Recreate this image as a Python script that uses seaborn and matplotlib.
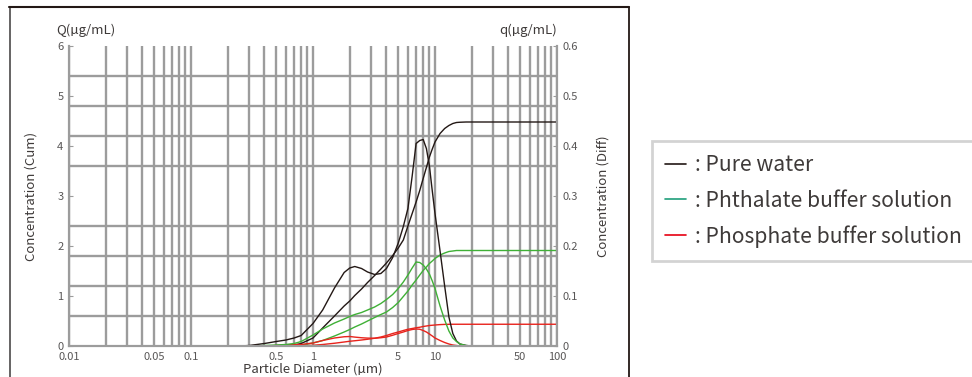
import numpy as np
import pandas as pd
import seaborn as sns
import matplotlib.pyplot as plt
from matplotlib.ticker import FixedLocator, LogLocator, NullFormatter
from matplotlib.lines import Line2D

# particle diameter (um), common grid for all curves
diameter = [0.01, 0.25, 0.3, 0.4, 0.5, 0.6, 0.7, 0.8, 1.0, 1.2, 1.5, 1.8, 2.0, 2.2, 2.5, 2.8,
            3.2, 3.6, 4.0, 4.5, 5.0, 5.5, 6.0, 6.5, 7.0, 7.5, 8.0, 8.5, 9.0, 9.5, 10, 11, 12,
            13, 14, 15, 16, 18, 20, 25, 100]

# cumulative Q (ug/mL), left axis
water_cum = [0, 0, 0, 0.003, 0.006, 0.01, 0.02, 0.05, 0.16, 0.36, 0.6, 0.8, 0.9, 1.01, 1.14, 1.27,
             1.41, 1.54, 1.66, 1.81, 1.96, 2.12, 2.4, 2.65, 2.88, 3.11, 3.35, 3.57, 3.78, 3.94, 4.08,
             4.25, 4.35, 4.41, 4.45, 4.47, 4.475, 4.48, 4.48, 4.48, 4.48]
phthalate_cum = [0, 0, 0, 0.001, 0.003, 0.005, 0.01, 0.02, 0.06, 0.11, 0.2, 0.28, 0.33, 0.38, 0.44,
                 0.5, 0.57, 0.63, 0.68, 0.77, 0.87, 0.99, 1.1, 1.22, 1.32, 1.42, 1.51, 1.58, 1.65,
                 1.7, 1.75, 1.82, 1.86, 1.89, 1.9, 1.91, 1.91, 1.91, 1.91, 1.91, 1.91]
phosphate_cum = [0, 0, 0, 0, 0.001, 0.003, 0.005, 0.007, 0.015, 0.03, 0.055, 0.08, 0.095, 0.105,
                 0.12, 0.135, 0.155, 0.18, 0.21, 0.25, 0.28, 0.31, 0.335, 0.35, 0.365, 0.375, 0.39,
                 0.4, 0.41, 0.415, 0.42, 0.428, 0.432, 0.434, 0.435, 0.435, 0.435, 0.435, 0.435,
                 0.435, 0.435]

# differential q (ug/mL), right axis
water_diff = [0, 0, 0.001, 0.005, 0.009, 0.012, 0.016, 0.021, 0.045, 0.072, 0.116, 0.147, 0.156,
              0.159, 0.155, 0.148, 0.143, 0.145, 0.155, 0.177, 0.206, 0.239, 0.275, 0.34, 0.405,
              0.411, 0.413, 0.395, 0.36, 0.31, 0.265, 0.19, 0.12, 0.058, 0.025, 0.01, 0.004, 0.001,
              0, 0, 0]
phthalate_diff = [0, 0, 0, 0.001, 0.002, 0.003, 0.005, 0.009, 0.022, 0.034, 0.046, 0.054, 0.059,
                  0.063, 0.067, 0.072, 0.078, 0.085, 0.093, 0.103, 0.115, 0.128, 0.142, 0.156,
                  0.168, 0.167, 0.162, 0.154, 0.144, 0.13, 0.115, 0.08, 0.052, 0.03, 0.016, 0.009,
                  0.004, 0.001, 0, 0, 0]
phosphate_diff = [0, 0, 0, 0, 0.001, 0.002, 0.003, 0.003, 0.006, 0.011, 0.016, 0.0185, 0.019,
                  0.0178, 0.0165, 0.0158, 0.0155, 0.0165, 0.018, 0.0215, 0.025, 0.028, 0.031,
                  0.033, 0.034, 0.0335, 0.031, 0.028, 0.024, 0.02, 0.016, 0.011, 0.007, 0.004,
                  0.002, 0.001, 0, 0, 0, 0, 0]

samples = ["Pure water", "Phosphate buffer solution", "Phthalate buffer solution"]
colores = {"Pure water": "#231815", "Phthalate buffer solution": "#3fb036",
           "Phosphate buffer solution": "#e8231c"}
legend_colors = ["#231815", "#1f9e7a", "#e60012"]
legend_labels = [": Pure water", ": Phthalate buffer solution", ": Phosphate buffer solution"]

x_ticks = [0.01, 0.05, 0.1, 0.5, 1, 5, 10, 50, 100]
x_tick_labels = ["0.01", "0.05", "0.1", "0.5", "1", "5", "10", "50", "100"]

n = len(diameter)
df_cum = pd.DataFrame({
    "Diameter": diameter * 3,
    "Q": water_cum + phosphate_cum + phthalate_cum,
    "Sample": [samples[0]] * n + [samples[1]] * n + [samples[2]] * n,
})
df_diff = pd.DataFrame({
    "Diameter": diameter * 3,
    "q": water_diff + phosphate_diff + phthalate_diff,
    "Sample": [samples[0]] * n + [samples[1]] * n + [samples[2]] * n,
})

sns.set_theme(style="white")
plt.rcParams['font.family'] = ['Noto Sans CJK JP', 'DejaVu Sans']
texto = "#3e3a39"
cinza = "#9c9c9c"

fig = plt.figure(figsize=(9.72, 3.77), dpi=100)
ax = fig.add_axes([69 / 972, 31 / 377, 488 / 972, 300 / 377])
ax2 = ax.twinx()

sns.lineplot(data=df_cum, x="Diameter", y="Q", hue="Sample", hue_order=samples,
             palette=colores, linewidth=1.0, legend=False, ax=ax)
sns.lineplot(data=df_diff, x="Diameter", y="q", hue="Sample", hue_order=samples,
             palette=colores, linewidth=1.0, legend=False, ax=ax2)

ax.set_xscale("log")
ax.set_xlim(0.01, 100)
ax.set_ylim(0, 6)
ax2.set_ylim(0, 0.6)

# grid
ax.xaxis.set_major_locator(FixedLocator(x_ticks))
ax.set_xticklabels(x_tick_labels)
ax.xaxis.set_minor_locator(LogLocator(base=10, subs=np.arange(1, 10)))
ax.xaxis.set_minor_formatter(NullFormatter())
ax.set_yticks(range(0, 7))
ax.yaxis.set_minor_locator(FixedLocator(np.arange(0.6, 5.5, 0.6)))
ax.grid(True, which="both", axis="x", color=cinza, linewidth=1.7)
ax.grid(True, which="minor", axis="y", color=cinza, linewidth=1.7)
ax.grid(False, which="major", axis="y")
ax.set_axisbelow(True)

ax2.set_yticks([0, 0.1, 0.2, 0.3, 0.4, 0.5, 0.6])
ax2.set_yticklabels(["0", "0.1", "0.2", "0.3", "0.4", "0.5", "0.6"])
ax2.grid(False)

ax.tick_params(axis="x", which="both", length=0, pad=4, labelsize=8, labelcolor="#595757")
ax.tick_params(axis="y", which="major", direction="in", length=3, width=0.8, color=cinza,
               pad=4, labelsize=8, labelcolor="#595757")
ax.tick_params(axis="y", which="minor", length=0)
ax2.tick_params(axis="y", which="major", direction="in", length=3, width=0.8, color=cinza,
                pad=4, labelsize=8, labelcolor="#595757")

for a in (ax, ax2):
    a.spines["top"].set_visible(False)
    for s in ("left", "right", "bottom"):
        a.spines[s].set_color(cinza)
        a.spines[s].set_linewidth(1.5)

ax.set_xlabel("Particle Diameter (µm)", fontsize=9.5, color=texto)
ax.xaxis.set_label_coords(0.5, -0.055)
ax.set_ylabel("Concentration (Cum)", fontsize=9.5, color=texto)
ax.yaxis.set_label_coords(-0.064, 0.5)
ax2.set_ylabel("Concentration (Diff)", fontsize=9.5, color=texto)
ax2.yaxis.set_label_coords(1.08, 0.5)

ax.text(0.035, 1.053, "Q(µg/mL)", transform=ax.transAxes, ha="center", va="center",
        fontsize=9.5, color=texto)
ax.text(0.94, 1.053, "q(µg/mL)", transform=ax.transAxes, ha="center", va="center",
        fontsize=9.5, color=texto)

# outer frame around the chart
fig.add_artist(Line2D([9.5 / 972, 9.5 / 972], [0, 370 / 377], color="#595757", linewidth=1.3))
fig.add_artist(Line2D([9 / 972, 628.5 / 972], [370 / 377, 370 / 377], color="#231815", linewidth=1.5))
fig.add_artist(Line2D([628.5 / 972, 628.5 / 972], [0, 370 / 377], color="#231815", linewidth=1.3))

# legend
handles = [Line2D([], [], color=c, linewidth=1.2) for c in legend_colors]
leg = fig.legend(handles, legend_labels, loc="upper left", bbox_to_anchor=(652 / 972, 236 / 377),
                 frameon=True, fancybox=False, fontsize=15.2, handlelength=1.0,
                 handletextpad=0.42, labelspacing=0.64, borderpad=0.62, borderaxespad=0)
leg.get_frame().set_edgecolor("#c9c9c9")
leg.get_frame().set_linewidth(2)
for t in leg.get_texts():
    t.set_color(texto)

fig.savefig("out.png", dpi=100)
